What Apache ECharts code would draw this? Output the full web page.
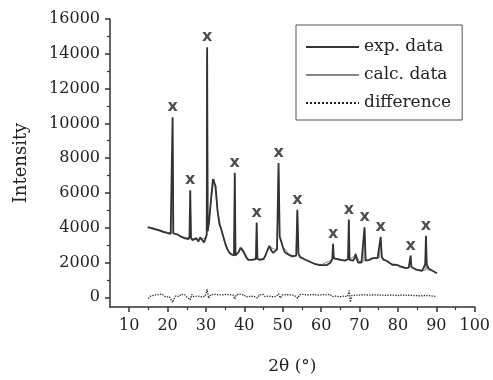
<!DOCTYPE html>
<html>
<head>
<meta charset="utf-8">
<script src="https://cdn.jsdelivr.net/npm/echarts@6/dist/echarts.min.js"></script>
<style>
  html, body { margin: 0; padding: 0; background: #fff; }
  #chart { width: 493px; height: 380px; }
</style>
</head>
<body>
<div id="chart"></div>
<script>
// measured pattern, [2theta, intensity]
var expData = [
    [14.8, 4030], [15.3, 4100], [15.8, 3980], [16.3, 4080], [16.8, 3900], [17.3, 3950], [17.8, 3850], [18.3, 3880],
    [18.8, 3760], [19.3, 3800], [19.8, 3700], [20.3, 3740], [20.8, 3650], [21.1, 3700], [21.3, 10350], [21.5, 3680],
    [22, 3780], [22.5, 3620], [23, 3560], [23.5, 3480], [24, 3500], [24.5, 3380], [25, 3420], [25.5, 3350],
    [25.7, 3500], [25.9, 6150], [26.1, 3400], [26.5, 3280], [27, 3180], [27.5, 3400], [28, 3200], [28.5, 3450],
    [29, 3300], [29.5, 3150], [30, 3250], [30.2, 3600], [30.3, 14380], [30.45, 3800], [30.8, 4300], [31.3, 5600],
    [31.8, 6800], [32.1, 6880], [32.5, 6400], [33, 5000], [33.5, 4200], [34, 3900], [34.5, 3500], [35, 3100],
    [35.5, 2800], [36, 2600], [36.5, 2480], [37, 2380], [37.3, 2400], [37.5, 7160], [37.7, 2400], [38, 2350],
    [38.5, 2600], [39, 2850], [39.4, 2900], [39.8, 2600], [40.5, 2300], [41, 2150], [41.5, 2200], [42, 2150],
    [42.5, 2100], [43, 2200], [43.2, 4300], [43.4, 2200], [44, 2150], [44.5, 2250], [45, 2200], [45.5, 2400],
    [46, 2700], [46.5, 2960], [47, 2700], [47.5, 2550], [48, 2600], [48.5, 2750], [48.9, 7720], [49.2, 3500],
    [49.6, 3200], [50, 2900], [50.5, 2600], [51, 2500], [51.5, 2450], [52, 2400], [52.5, 2350], [53, 2300],
    [53.5, 2400], [53.8, 5030], [54.1, 2500], [54.5, 2300], [55, 2250], [55.5, 2200], [56, 2150], [56.5, 2100],
    [57, 2100], [57.5, 2000], [58, 1950], [58.5, 1900], [59, 1900], [59.5, 1850], [60, 1880], [60.5, 1850],
    [61, 1870], [61.5, 1850], [62, 1900], [62.5, 2000], [62.9, 2200], [63.1, 3080], [63.3, 2250], [63.7, 2150],
    [64.2, 2200], [64.7, 2100], [65.2, 2150], [65.7, 2080], [66.2, 2100], [66.7, 2050], [67, 2200], [67.2, 4470],
    [67.4, 2150], [67.8, 2050], [68.3, 2100], [68.8, 2300], [69, 2500], [69.2, 2250], [69.6, 2000], [70, 2050],
    [70.5, 2000], [71, 2100], [71.3, 4030], [71.6, 2100], [72.1, 2050], [72.6, 2150], [73, 2200], [73.4, 2250],
    [74, 2250], [74.7, 2250], [75.2, 2350], [75.5, 3470], [75.8, 2300], [76.3, 2150], [77, 2100], [77.5, 2050],
    [78, 1950], [78.6, 1850], [79.2, 1880], [79.9, 1850], [80.5, 1780], [81, 1750], [81.6, 1700], [82.2, 1680],
    [82.8, 1700], [83.1, 1800], [83.3, 2400], [83.5, 1750], [84, 1650], [84.6, 1600], [85, 1570], [85.6, 1550],
    [86.3, 1510], [86.8, 1600], [87.1, 1900], [87.3, 3530], [87.5, 1900], [88, 1650], [88.5, 1600], [89, 1520],
    [89.4, 1500], [89.8, 1420], [90.2, 1400]
];

// fitted pattern (sits under the measured one)
var calcData = [
    [14.8, 4000], [16, 4000], [18, 3870], [20, 3730], [21.1, 3690], [21.3, 10100], [21.5, 3680], [23, 3560],
    [25, 3420], [25.7, 3450], [25.9, 6000], [26.1, 3400], [28, 3300], [30.1, 3400], [30.3, 14000], [30.5, 3800],
    [31.3, 5500], [32.1, 6800], [33, 5000], [34, 3850], [35, 3100], [36, 2600], [37.3, 2400], [37.5, 7000],
    [37.7, 2400], [39.4, 2850], [41, 2150], [43, 2180], [43.2, 4200], [43.4, 2200], [45, 2200], [46.5, 2900],
    [48.5, 2700], [48.9, 7600], [49.2, 3450], [50, 2900], [52, 2400], [53.6, 2380], [53.8, 4950], [54.1, 2450],
    [56, 2150], [58, 1950], [60, 1870], [62.9, 2150], [63.1, 3000], [63.3, 2200], [65, 2130], [67, 2150],
    [67.2, 4400], [67.4, 2150], [69, 2450], [70, 2050], [71.1, 2080], [71.3, 3950], [71.5, 2100], [73.4, 2230],
    [75.2, 2300], [75.5, 3400], [75.8, 2280], [78, 1950], [80, 1840], [82.2, 1690], [83.1, 1750], [83.3, 2350],
    [83.5, 1730], [85, 1580], [87.1, 1550], [87.3, 3480], [87.5, 1600], [89, 1520], [90.2, 1400]
];

var diffData = [
    [15, -80], [15.5, 60], [16, -40], [16.5, 120], [17, 40], [17.5, 150], [18, 60], [18.5, 180], [19, 90], [19.5, 20],
    [20, 110], [20.5, 30], [21, 80], [21.3, -300], [21.6, -120], [22, 60], [22.5, 130], [23, 50], [23.5, 170], [24, 80],
    [24.5, 140], [25, 20], [25.5, 110], [25.9, -150], [26.3, 160], [26.8, 40], [27.3, 150], [27.8, 70], [28.3, 180],
    [28.8, 30], [29.3, 140], [29.8, 60], [30.3, 450], [30.7, -60], [31.2, 150], [31.7, 50], [32.2, 170], [32.7, 80],
    [33.2, 150], [33.7, 40], [34.2, 130], [34.7, 60], [35.2, 170], [35.7, 90], [36.2, 140], [36.7, 30], [37.2, 120],
    [37.5, -100], [37.9, 150], [38.4, 60], [38.9, 170], [39.4, 90], [39.9, 140], [40.4, 20], [40.9, 120], [41.4, 50],
    [41.9, 150], [42.4, 60], [42.9, 130], [43.4, -40], [43.9, 140], [44.4, 60], [44.9, 160], [45.4, 40], [45.9, 130],
    [46.4, 70], [46.9, 150], [47.4, 30], [47.9, 130], [48.4, 60], [48.9, 200], [49.4, -40], [49.9, 130], [50.4, 50],
    [50.9, 150], [51.4, 70], [51.9, 140], [52.4, 40], [52.9, 120], [53.4, 80], [53.9, -50], [54.4, 150], [54.9, 60],
    [55.4, 170], [55.9, 90], [56.4, 130], [56.9, 40], [57.4, 150], [57.9, 60], [58.4, 140], [58.9, 30], [59.4, 120],
    [59.9, 70], [60.4, 150], [60.9, 50], [61.4, 140], [61.9, 80], [62.4, 160], [62.9, 40], [63.4, 130], [63.9, 70],
    [64.4, 150], [64.9, 30], [65.4, 120], [65.9, 60], [66.4, 140], [66.9, 50], [67.3, 380], [67.6, -280], [68, 100],
    [68.5, 20], [69, 130], [69.5, 60], [70, 120], [70.5, 50], [71, 140], [71.5, 70], [72, 130], [72.5, 40], [73, 120],
    [73.5, 60], [74, 140], [74.5, 50], [75, 130], [75.5, 70], [76, 120], [76.5, 40], [77, 110], [77.5, 60], [78, 130],
    [78.5, 50], [79, 120], [79.5, 30], [80, 100], [80.5, 60], [81, 130], [81.5, 40], [82, 110], [82.5, 60], [83, 120],
    [83.5, 30], [84, 100], [84.5, 50], [85, 90], [85.5, 20], [86, 80], [86.5, 50], [87, 100], [87.5, 30], [88, 90],
    [88.5, 40], [89, 70], [89.5, 30], [90, 50]
];

// reflections marked with an x
var peakPos = [21.3, 25.9, 30.3, 37.5, 43.2, 48.9, 53.8, 63.1, 67.2, 71.3, 75.5, 83.3, 87.3];
var peakTop = [10350, 6150, 14380, 7160, 4300, 7720, 5030, 3080, 4470, 4030, 3470, 2400, 3530];

var xTicks = [10, 20, 30, 40, 50, 60, 70, 80, 90, 100];
var xMinorTicks = [15, 25, 35, 45, 55, 65, 75, 85, 95];
var yTicks = [0, 2000, 4000, 6000, 8000, 10000, 12000, 14000, 16000];
var yMinorTicks = [1000, 3000, 5000, 7000, 9000, 11000, 13000, 15000];

var seriesNames = ['exp. data', 'calc. data', 'difference'];

var serif = 'DejaVu Serif';
var axisColor = '#333';
var clear = 'rgba(0,0,0,0)';

var chart = echarts.init(document.getElementById('chart'), null, {renderer: 'canvas'});

var peakData = peakPos.map(function (p, i) {
    return [p, peakTop[i]];
});

var option = {
    animation: false,
    backgroundColor: '#fff',
    grid: {left: 110, right: 15, top: 19, bottom: 65},
    legend: {
        data: seriesNames,
        orient: 'vertical',
        left: 296,
        top: 25,
        width: 173,
        padding: [12, 11, 7, 9],
        itemWidth: 53,
        itemHeight: 14,
        itemGap: 8,
        borderColor: '#555',
        borderWidth: 1,
        // hide the round marker the line icon carries, keep the line
        itemStyle: {color: clear, borderColor: clear, borderWidth: 0},
        textStyle: {fontFamily: serif, fontSize: 17, color: '#222', lineHeight: 20}
    },
    xAxis: [{
        type: 'value',
        min: 5,
        max: 100,
        name: '2θ (°)',
        nameLocation: 'middle',
        nameGap: 51,
        nameTextStyle: {fontFamily: serif, fontSize: 17, color: '#222'},
        splitLine: {show: false},
        axisLine: {onZero: false, lineStyle: {color: axisColor, width: 1.5}},
        axisTick: {customValues: xTicks, length: 5, lineStyle: {color: axisColor, width: 1.5}},
        axisLabel: {customValues: xTicks, margin: 11, fontFamily: serif, fontSize: 16, color: '#222'}
    }, {
        type: 'value',
        min: 5,
        max: 100,
        position: 'bottom',
        splitLine: {show: false},
        axisLine: {show: false, onZero: false},
        axisTick: {customValues: xMinorTicks, length: 3, lineStyle: {color: axisColor, width: 1.2}},
        axisLabel: {show: false}
    }],
    yAxis: [{
        type: 'value',
        min: -560,
        max: 16000,
        name: 'Intensity',
        nameLocation: 'middle',
        nameGap: 80,
        nameTextStyle: {fontFamily: serif, fontSize: 18, color: '#222'},
        splitLine: {show: false},
        axisLine: {show: true, onZero: false, lineStyle: {color: axisColor, width: 1.5}},
        axisTick: {customValues: yTicks, length: 5, lineStyle: {color: axisColor, width: 1.5}},
        axisLabel: {
            customValues: yTicks, margin: 10, fontFamily: serif, fontSize: 16, color: '#222',
            formatter: function (v) { return String(v); }
        }
    }, {
        type: 'value',
        min: -560,
        max: 16000,
        position: 'left',
        splitLine: {show: false},
        axisLine: {show: false, onZero: false},
        axisTick: {customValues: yMinorTicks, length: 3, lineStyle: {color: axisColor, width: 1.2}},
        axisLabel: {show: false}
    }],
    series: [
        {
            name: 'calc. data',
            type: 'line',
            data: calcData,
            symbol: 'none',
            lineStyle: {color: '#888', width: 1},
            itemStyle: {color: '#888'},
            z: 2
        },
        {
            name: 'exp. data',
            type: 'line',
            data: expData,
            symbol: 'none',
            lineStyle: {color: '#333', width: 1.8},
            itemStyle: {color: '#333'},
            z: 3
        },
        {
            name: 'difference',
            type: 'line',
            data: diffData,
            symbol: 'none',
            lineStyle: {color: '#222', width: 1.3, type: 'dotted'},
            itemStyle: {color: '#222'},
            z: 3
        },
        {
            name: 'peaks',
            type: 'scatter',
            data: peakData,
            symbolSize: 2,
            itemStyle: {color: clear},
            label: {
                show: true,
                position: 'top',
                distance: 1,
                formatter: 'x',
                fontFamily: 'DejaVu Sans',
                fontWeight: 'bold',
                fontSize: 16,
                color: '#222'
            },
            labelLayout: {hideOverlap: false},
            z: 4
        }
    ]
};

chart.setOption(option);
</script>
</body>
</html>
